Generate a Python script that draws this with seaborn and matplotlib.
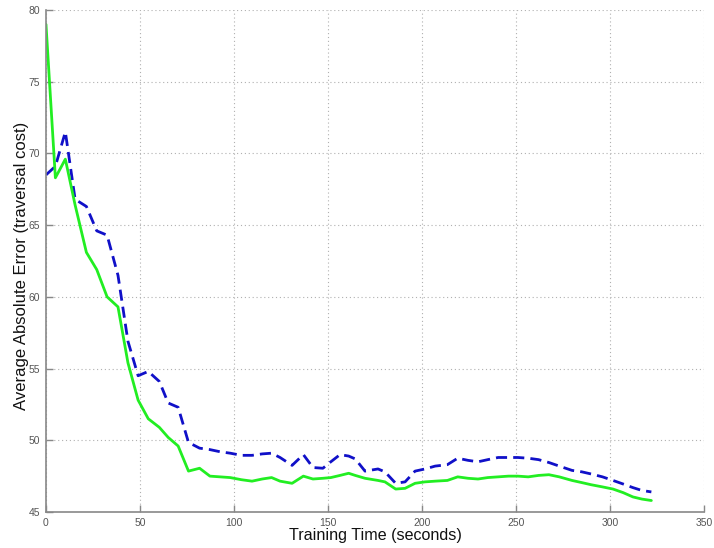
import matplotlib
matplotlib.use("Agg")
import matplotlib.pyplot as plt
import seaborn as sns
import pandas as pd

time_s = [0, 5, 10.3, 15.5, 21.5, 27, 32.5, 38.3, 43.6, 49, 54.4, 60.3, 65, 70.3, 75.8,
          81.7, 87.2, 92.6, 98, 104, 109.6, 115, 120, 124.5, 130.9, 136.9, 142, 147.3,
          151.5, 156.4, 161, 164.5, 169.7, 176.6, 180.3, 186, 191, 196.3, 201.6, 207,
          213.5, 219, 224.5, 229.8, 235, 240.5, 246, 251, 256.5, 262, 267.5, 273, 279.8,
          285, 290, 296, 301.6, 307, 312.2, 317, 322]

err_green = [79.0, 68.3, 69.6, 66.4, 63.1, 61.9, 60.0, 59.3, 55.4, 52.8, 51.5, 50.9, 50.2,
             49.6, 47.85, 48.05, 47.5, 47.45, 47.4, 47.25, 47.15, 47.3, 47.4, 47.15, 47.0,
             47.5, 47.3, 47.35, 47.4, 47.55, 47.7, 47.55, 47.35, 47.2, 47.1, 46.6, 46.65,
             47.0, 47.1, 47.15, 47.2, 47.45, 47.35, 47.3, 47.4, 47.45, 47.5, 47.5, 47.45,
             47.55, 47.6, 47.45, 47.2, 47.05, 46.9, 46.75, 46.6, 46.35, 46.05, 45.9, 45.8]

err_blue = [68.5, 69.1, 71.5, 66.8, 66.3, 64.6, 64.3, 61.5, 56.9, 54.5, 54.8, 54.1, 52.6,
            52.3, 49.85, 49.45, 49.35, 49.2, 49.1, 48.95, 48.95, 49.05, 49.1, 48.8, 48.25,
            49.0, 48.1, 48.05, 48.5, 49.0, 48.9, 48.7, 47.85, 48.0, 47.8, 47.0, 47.1,
            47.85, 48.0, 48.2, 48.3, 48.75, 48.6, 48.5, 48.65, 48.8, 48.8, 48.8, 48.75,
            48.65, 48.45, 48.2, 47.9, 47.8, 47.65, 47.45, 47.2, 46.95, 46.7, 46.5, 46.4]

x_ticks = [0, 50, 100, 150, 200, 250, 300, 350]
y_ticks = [45, 50, 55, 60, 65, 70, 75, 80]

sns.set_theme(style="white")
plt.rcParams['font.family'] = ['Liberation Sans', 'DejaVu Sans']

fig = plt.figure(figsize=(7.14, 5.48), dpi=100)
ax = fig.add_axes([0.0644, 0.0657, 0.9216, 0.9161])

df_g = pd.DataFrame({"t": time_s, "e": err_green})
df_b = pd.DataFrame({"t": time_s, "e": err_blue})
sns.lineplot(data=df_b, x="t", y="e", ax=ax, color="#1010c8", linewidth=2.0,
             linestyle=(0, (4, 2.2)), sort=False)
sns.lineplot(data=df_g, x="t", y="e", ax=ax, color="#22ee22", linewidth=2.0, sort=False)

ax.set_xlim(0, 350)
ax.set_ylim(45, 80)
ax.set_xticks(x_ticks)
ax.set_yticks(y_ticks)
ax.grid(True, color="#b0b0b0", linestyle=(0, (1, 2.5)), linewidth=0.8)
ax.set_axisbelow(True)
for s in ["top", "right"]:
    ax.spines[s].set_visible(False)
for s in ["left", "bottom"]:
    ax.spines[s].set_color("#888888")
    ax.spines[s].set_linewidth(1.2)
ax.tick_params(direction="in", length=5, width=1, color="#888888",
               labelsize=7.5, labelcolor="#555555", left=True, bottom=True, pad=4)
ax.set_xlabel("Training Time (seconds)", fontsize=11.6, color="#111111", labelpad=0)
ax.set_ylabel("Average Absolute Error (traversal cost)", fontsize=12, color="#111111", labelpad=0)
ax.yaxis.set_label_coords(-0.026, 0.49)

fig.savefig("out.png", dpi=100)
